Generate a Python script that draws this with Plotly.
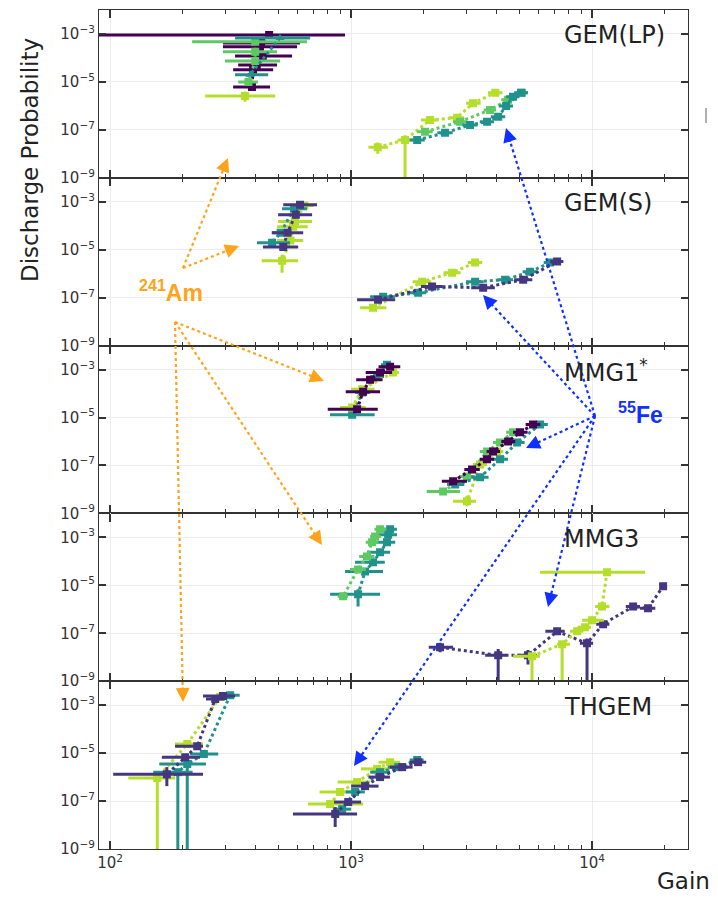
import plotly.graph_objects as go
from plotly.subplots import make_subplots

# ---------------- colours ----------------
DP = "#440154"   # dark purple
IN = "#45377f"   # indigo
TE = "#21918c"   # teal
GR = "#5ec962"   # green
YG = "#b5de2b"   # yellow-green

PANEL_LABELS = ["GEM(LP)", "GEM(S)", "MMG1<sup>*</sup>", "MMG3", "THGEM"]
X_MAJOR = [100, 1000, 10000]
X_MAJOR_TEXT = ["10<sup>2</sup>", "10<sup>3</sup>", "10<sup>4</sup>"]
X_MINOR = [200, 300, 400, 500, 600, 700, 800, 900,
           2000, 3000, 4000, 5000, 6000, 7000, 8000, 9000, 20000]
Y_TICKS = [1e-9, 1e-7, 1e-5, 1e-3]
Y_TICK_TEXT = ["10<sup>\u22129</sup>", "10<sup>\u22127</sup>", "10<sup>\u22125</sup>", "10<sup>\u22123</sup>"]

# ---------------- panel 1 : GEM(LP) ----------------
P1_AM_DP_X = [457, 423, 419, 430, 406, 392, 388]
P1_AM_DP_Y = [9.0e-4, 4.2e-4, 2.9e-4, 1.2e-4, 5.1e-5, 3.2e-5, 6.2e-6]
P1_AM_DP_XLO = [80, 294, 294, 330, 340, 324, 324]
P1_AM_DP_XHI = [944, 614, 597, 569, 493, 475, 461]

P1_AM_TE_X = [507, 381]
P1_AM_TE_Y = [6.8e-4, 2.0e-5]
P1_AM_TE_XLO = [330, 330]
P1_AM_TE_XHI = [676, 453]

P1_AM_GR_X = [400, 400, 400, 375]
P1_AM_GR_Y = [4.7e-4, 1.8e-4, 7.5e-5, 1.0e-5]
P1_AM_GR_XLO = [219, 294, 300, 340]
P1_AM_GR_XHI = [656, 493, 507, 411]

P1_AM_YG_X = [363]
P1_AM_YG_Y = [2.6e-6]
P1_AM_YG_XLO = [248]
P1_AM_YG_XHI = [484]
P1_AM_YG_YLO = [1.5e-6]
P1_AM_YG_YHI = [4.0e-6]

P1_FE_YG_X = [1290, 1675, 2127, 2754, 3206, 3965]
P1_FE_YG_Y = [1.9e-8, 3.8e-8, 2.6e-7, 3.2e-7, 1.3e-6, 3.5e-6]
P1_FE_YG_XLO = [1180, 1560, 1950, 2550, 3000, 3700]
P1_FE_YG_XHI = [1420, 1800, 2300, 2950, 3450, 4250]
P1_FE_YG_YLO = [1.0e-8, 8e-10, 2.0e-7, 2.6e-7, 1.1e-6, 3.0e-6]
P1_FE_YG_YHI = [3.0e-8, 6.0e-8, 3.2e-7, 3.9e-7, 1.6e-6, 4.2e-6]

P1_FE_GR_X = [2028, 2833, 3773, 4482, 5120]
P1_FE_GR_Y = [8.3e-8, 2.2e-7, 6.8e-7, 1.8e-6, 3.5e-6]
P1_FE_GR_XLO = [1880, 2650, 3550, 4200, 4850]
P1_FE_GR_XHI = [2180, 3030, 4000, 4750, 5400]

P1_FE_TE_X = [1880, 2455, 3117, 3666, 4077, 4400, 4700, 5073]
P1_FE_TE_Y = [3.8e-8, 7.5e-8, 1.6e-7, 2.2e-7, 3.5e-7, 1.0e-6, 2.4e-6, 3.5e-6]
P1_FE_TE_XLO = [1750, 2280, 2900, 3420, 3800, 4100, 4400, 4750]
P1_FE_TE_XHI = [2020, 2640, 3350, 3920, 4360, 4700, 5000, 5420]

# ---------------- panel 2 : GEM(S) ----------------
P2_AM_IN_X = [614, 590, 545, 523]
P2_AM_IN_Y = [7.5e-4, 2.9e-4, 5.1e-5, 1.3e-5]
P2_AM_IN_XLO = [523, 498, 469, 431]
P2_AM_IN_XHI = [722, 689, 633, 603]

P2_AM_TE_X = [580, 510, 470]
P2_AM_TE_Y = [5.1e-4, 5.1e-5, 1.95e-5]
P2_AM_TE_XLO = [517, 469, 407]
P2_AM_TE_XHI = [656, 558, 558]

P2_AM_YG_X = [640, 585, 575, 560, 517]
P2_AM_YG_Y = [7.0e-4, 1.5e-4, 9.1e-5, 2.4e-5, 3.5e-6]
P2_AM_YG_XLO = [600, 498, 493, 493, 426]
P2_AM_YG_XHI = [700, 689, 661, 633, 603]
P2_AM_YG_YLO = [6.5e-4, 1.4e-4, 8.5e-5, 2.2e-5, 1.1e-6]
P2_AM_YG_YHI = [7.5e-4, 1.6e-4, 9.7e-5, 2.6e-5, 6.2e-6]

P2_FE_IN_X = [1294, 2168, 3532, 5177, 7161]
P2_FE_IN_Y = [8.2e-8, 2.9e-7, 2.6e-7, 5.6e-7, 3.2e-6]
P2_FE_IN_XLO = [1059, 1950, 3150, 4750, 6700]
P2_FE_IN_XHI = [1524, 2400, 3950, 5650, 7600]

P2_FE_TE_X = [1358, 1897, 3270, 4357, 5529, 6693]
P2_FE_TE_Y = [1.1e-7, 1.6e-7, 4.6e-7, 5.6e-7, 1.2e-6, 2.9e-6]
P2_FE_TE_XLO = [1200, 1750, 3000, 4050, 5150, 6300]
P2_FE_TE_XHI = [1520, 2050, 3550, 4700, 5900, 7100]

P2_FE_YG_X = [1233, 1972, 2625, 3270]
P2_FE_YG_Y = [3.8e-8, 4.6e-7, 1.1e-6, 2.9e-6]
P2_FE_YG_XLO = [1090, 1800, 2420, 3050]
P2_FE_YG_XHI = [1400, 2150, 2850, 3500]

# ---------------- panel 3 : MMG1* ----------------
P3_AM_DP_X = [1452, 1319, 1199, 1122, 1059]
P3_AM_DP_Y = [1.3e-3, 7.5e-4, 3.8e-4, 1.2e-4, 2.2e-5]
P3_AM_DP_XLO = [1300, 1150, 1050, 950, 800]
P3_AM_DP_XHI = [1600, 1480, 1350, 1319, 1290]

P3_AM_TE_X = [1409, 1282, 1111, 1010]
P3_AM_TE_Y = [1.6e-3, 5.1e-4, 1.1e-4, 1.3e-5]
P3_AM_TE_XLO = [1330, 1200, 1040, 818]
P3_AM_TE_XHI = [1500, 1370, 1200, 1253]

P3_AM_YG_X = [1493, 1111, 1010]
P3_AM_YG_Y = [7.5e-4, 1.5e-4, 2.6e-5]
P3_AM_YG_XLO = [1420, 1000, 900]
P3_AM_YG_XHI = [1580, 1250, 1150]

P3_FE_DP_X = [5690, 5025, 4482, 3882, 3666, 3177, 2651]
P3_FE_DP_Y = [5.1e-6, 2.4e-6, 1.0e-6, 3.8e-7, 1.8e-7, 6.8e-8, 2.2e-8]
P3_FE_DP_XLO = [5300, 4700, 4200, 3650, 3420, 2950, 2380]
P3_FE_DP_XHI = [6100, 5400, 4800, 4150, 3920, 3420, 3027]

P3_FE_TE_X = [6083, 4887, 4151, 3429, 2703]
P3_FE_TE_Y = [5.1e-6, 9.1e-7, 1.8e-7, 3.2e-8, 1.6e-8]
P3_FE_TE_XLO = [5650, 4550, 3850, 3150, 2500]
P3_FE_TE_XHI = [6550, 5250, 4480, 3720, 2950]

P3_FE_GR_X = [4700, 4151, 3666, 3027, 2410]
P3_FE_GR_Y = [2.4e-6, 9.1e-7, 3.8e-7, 3.5e-8, 8.2e-9]
P3_FE_GR_XLO = [4400, 3880, 3420, 2800, 2060]
P3_FE_GR_XHI = [5000, 4430, 3920, 3260, 2833]

P3_FE_YG_X = [4037, 3429, 3027]
P3_FE_YG_Y = [3.8e-7, 1.1e-7, 3.2e-9]
P3_FE_YG_XLO = [3800, 3200, 2651]
P3_FE_YG_XHI = [4280, 3660, 3300]
P3_FE_YG_YLO = [3.4e-7, 1.0e-7, 2.0e-9]
P3_FE_YG_YHI = [4.2e-7, 1.2e-7, 5.5e-9]

# ---------------- panel 4 : MMG3 ----------------
P4_AM_TE_X = [1452, 1425, 1409, 1319, 1233, 1143, 1069]
P4_AM_TE_Y = [2.2e-3, 1.3e-3, 6.2e-4, 2.4e-4, 9.1e-5, 3.8e-5, 4.2e-6]
P4_AM_TE_XLO = [1296, 1250, 1199, 1164, 1039, 944, 818]
P4_AM_TE_XHI = [1549, 1550, 1524, 1452, 1380, 1357, 1319]
P4_AM_TE_YLO = [2.1e-3, 1.25e-3, 5.9e-4, 2.3e-4, 8.7e-5, 3.6e-5, 1.3e-6]
P4_AM_TE_YHI = [2.3e-3, 1.35e-3, 6.5e-4, 2.5e-4, 9.5e-5, 4.0e-5, 6.8e-6]

P4_AM_GR_X = [1319, 1259, 1222, 1164, 1069, 927]
P4_AM_GR_Y = [2.2e-3, 1.1e-3, 6.2e-4, 1.6e-4, 4.6e-5, 3.5e-6]
P4_AM_GR_XLO = [1250, 1200, 1150, 1080, 990, 880]
P4_AM_GR_XHI = [1400, 1330, 1300, 1250, 1150, 970]

P4_FE_IN_X = [2340, 4077, 5420, 7161, 9530, 11110, 14800, 17070, 19710]
P4_FE_IN_Y = [2.6e-8, 1.2e-8, 1.2e-8, 1.2e-7, 3.8e-8, 2.4e-7, 1.3e-6, 1.1e-6, 9.1e-6]
P4_FE_IN_XLO = [2100, 3600, 4900, 6400, 8900, 10400, 13800, 15800, 19200]
P4_FE_IN_XHI = [2650, 4400, 5900, 7700, 10100, 11800, 15800, 18300, 20200]
P4_FE_IN_YLO = [1.6e-8, 8e-10, 5e-9, 1.0e-7, 8e-10, 2.0e-7, 1.1e-6, 9.5e-7, 8.0e-6]
P4_FE_IN_YHI = [4.0e-8, 2.2e-8, 2.0e-8, 1.4e-7, 6.0e-8, 2.8e-7, 1.5e-6, 1.3e-6, 1.0e-5]

P4_FE_YG_X = [5632, 7510, 8672, 9355, 10000, 10990, 11530]
P4_FE_YG_Y = [1.1e-8, 3.5e-8, 1.2e-7, 1.8e-7, 3.5e-7, 1.3e-6, 3.5e-5]
P4_FE_YG_XLO = [4700, 7161, 8100, 8700, 9100, 10300, 6083]
P4_FE_YG_XHI = [6083, 8102, 9200, 9900, 11200, 11800, 16600]
P4_FE_YG_YLO = [8e-10, 8e-10, 1.0e-7, 1.5e-7, 3.0e-7, 1.1e-6, 3.2e-5]
P4_FE_YG_YHI = [1.3e-8, 4.0e-8, 1.4e-7, 2.1e-7, 4.0e-7, 1.5e-6, 3.8e-5]

# ---------------- panel 5 : THGEM ----------------
P5_AM_IN_X = [294, 273, 230, 205, 172]
P5_AM_IN_Y = [2.4e-3, 1.8e-3, 1.95e-5, 6.8e-6, 1.3e-6]
P5_AM_IN_XLO = [243, 250, 186, 164, 103]
P5_AM_IN_XHI = [330, 300, 243, 236, 243]
P5_AM_IN_YLO = [2.3e-3, 1.7e-3, 1.8e-5, 5.0e-6, 4.2e-7]
P5_AM_IN_YHI = [2.5e-3, 1.9e-3, 2.1e-5, 8.5e-6, 2.6e-6]

P5_AM_TE_X = [315, 245, 209, 191]
P5_AM_TE_Y = [2.6e-3, 9.1e-6, 3.5e-6, 1.6e-6]
P5_AM_TE_XLO = [290, 215, 160, 151]
P5_AM_TE_XHI = [345, 281, 250, 220]
P5_AM_TE_YLO = [2.4e-3, 8.0e-6, 8e-10, 8e-10]
P5_AM_TE_YHI = [2.8e-3, 1.0e-5, 4.0e-6, 2.0e-6]

P5_AM_YG_X = [286, 209, 157]
P5_AM_YG_Y = [2.2e-3, 2.4e-5, 9.1e-7]
P5_AM_YG_XLO = [270, 186, 119]
P5_AM_YG_XHI = [300, 243, 186]
P5_AM_YG_YLO = [2.1e-3, 2.2e-5, 8e-10]
P5_AM_YG_YHI = [2.3e-3, 2.6e-5, 1.1e-6]

P5_FE_IN_X = [1897, 1629, 1319, 1143, 973, 859]
P5_FE_IN_Y = [4.2e-6, 2.6e-6, 1.0e-6, 4.2e-7, 9.1e-8, 2.9e-8]
P5_FE_IN_XLO = [1750, 1450, 1180, 1000, 850, 574]
P5_FE_IN_XHI = [2050, 1800, 1450, 1300, 1100, 1059]
P5_FE_IN_YLO = [3.9e-6, 2.4e-6, 9.0e-7, 3.8e-7, 8.0e-8, 8.3e-9]
P5_FE_IN_YHI = [4.5e-6, 2.8e-6, 1.1e-6, 4.6e-7, 1.0e-7, 5.6e-8]

P5_FE_TE_X = [1880, 1568, 1319, 1039, 918]
P5_FE_TE_Y = [5.1e-6, 2.6e-6, 1.6e-6, 2.4e-7, 4.6e-8]
P5_FE_TE_XLO = [1750, 1420, 1200, 950, 840]
P5_FE_TE_XHI = [2000, 1720, 1450, 1140, 1000]

P5_FE_YG_X = [1452, 1282, 1059, 900, 818]
P5_FE_YG_Y = [4.2e-6, 2.2e-6, 6.2e-7, 2.4e-7, 7.5e-8]
P5_FE_YG_XLO = [1300, 1100, 880, 740, 663]
P5_FE_YG_XHI = [1600, 1450, 1200, 1050, 1122]

SERIES = [
    (1, DP, "square", P1_AM_DP_X, P1_AM_DP_Y, P1_AM_DP_XLO, P1_AM_DP_XHI, None, None),
    (1, GR, "square", P1_AM_GR_X, P1_AM_GR_Y, P1_AM_GR_XLO, P1_AM_GR_XHI, None, None),
    (1, TE, "triangle-up", P1_AM_TE_X, P1_AM_TE_Y, P1_AM_TE_XLO, P1_AM_TE_XHI, None, None),
    (1, YG, "square", P1_AM_YG_X, P1_AM_YG_Y, P1_AM_YG_XLO, P1_AM_YG_XHI, P1_AM_YG_YLO, P1_AM_YG_YHI),
    (1, YG, "square", P1_FE_YG_X, P1_FE_YG_Y, P1_FE_YG_XLO, P1_FE_YG_XHI, P1_FE_YG_YLO, P1_FE_YG_YHI),
    (1, GR, "square", P1_FE_GR_X, P1_FE_GR_Y, P1_FE_GR_XLO, P1_FE_GR_XHI, None, None),
    (1, TE, "square", P1_FE_TE_X, P1_FE_TE_Y, P1_FE_TE_XLO, P1_FE_TE_XHI, None, None),

    (2, YG, "square", P2_AM_YG_X, P2_AM_YG_Y, P2_AM_YG_XLO, P2_AM_YG_XHI, P2_AM_YG_YLO, P2_AM_YG_YHI),
    (2, TE, "square", P2_AM_TE_X, P2_AM_TE_Y, P2_AM_TE_XLO, P2_AM_TE_XHI, None, None),
    (2, IN, "square", P2_AM_IN_X, P2_AM_IN_Y, P2_AM_IN_XLO, P2_AM_IN_XHI, None, None),
    (2, YG, "square", P2_FE_YG_X, P2_FE_YG_Y, P2_FE_YG_XLO, P2_FE_YG_XHI, None, None),
    (2, TE, "square", P2_FE_TE_X, P2_FE_TE_Y, P2_FE_TE_XLO, P2_FE_TE_XHI, None, None),
    (2, IN, "square", P2_FE_IN_X, P2_FE_IN_Y, P2_FE_IN_XLO, P2_FE_IN_XHI, None, None),

    (3, TE, "square", P3_AM_TE_X, P3_AM_TE_Y, P3_AM_TE_XLO, P3_AM_TE_XHI, None, None),
    (3, YG, "square", P3_AM_YG_X, P3_AM_YG_Y, P3_AM_YG_XLO, P3_AM_YG_XHI, None, None),
    (3, DP, "square", P3_AM_DP_X, P3_AM_DP_Y, P3_AM_DP_XLO, P3_AM_DP_XHI, None, None),
    (3, YG, "square", P3_FE_YG_X, P3_FE_YG_Y, P3_FE_YG_XLO, P3_FE_YG_XHI, P3_FE_YG_YLO, P3_FE_YG_YHI),
    (3, GR, "square", P3_FE_GR_X, P3_FE_GR_Y, P3_FE_GR_XLO, P3_FE_GR_XHI, None, None),
    (3, TE, "square", P3_FE_TE_X, P3_FE_TE_Y, P3_FE_TE_XLO, P3_FE_TE_XHI, None, None),
    (3, DP, "square", P3_FE_DP_X, P3_FE_DP_Y, P3_FE_DP_XLO, P3_FE_DP_XHI, None, None),

    (4, TE, "square", P4_AM_TE_X, P4_AM_TE_Y, P4_AM_TE_XLO, P4_AM_TE_XHI, P4_AM_TE_YLO, P4_AM_TE_YHI),
    (4, GR, "square", P4_AM_GR_X, P4_AM_GR_Y, P4_AM_GR_XLO, P4_AM_GR_XHI, None, None),
    (4, IN, "square", P4_FE_IN_X, P4_FE_IN_Y, P4_FE_IN_XLO, P4_FE_IN_XHI, P4_FE_IN_YLO, P4_FE_IN_YHI),
    (4, YG, "square", P4_FE_YG_X, P4_FE_YG_Y, P4_FE_YG_XLO, P4_FE_YG_XHI, P4_FE_YG_YLO, P4_FE_YG_YHI),

    (5, YG, "square", P5_AM_YG_X, P5_AM_YG_Y, P5_AM_YG_XLO, P5_AM_YG_XHI, P5_AM_YG_YLO, P5_AM_YG_YHI),
    (5, TE, "square", P5_AM_TE_X, P5_AM_TE_Y, P5_AM_TE_XLO, P5_AM_TE_XHI, P5_AM_TE_YLO, P5_AM_TE_YHI),
    (5, IN, "square", P5_AM_IN_X, P5_AM_IN_Y, P5_AM_IN_XLO, P5_AM_IN_XHI, P5_AM_IN_YLO, P5_AM_IN_YHI),
    (5, YG, "square", P5_FE_YG_X, P5_FE_YG_Y, P5_FE_YG_XLO, P5_FE_YG_XHI, None, None),
    (5, TE, "square", P5_FE_TE_X, P5_FE_TE_Y, P5_FE_TE_XLO, P5_FE_TE_XHI, None, None),
    (5, IN, "square", P5_FE_IN_X, P5_FE_IN_Y, P5_FE_IN_XLO, P5_FE_IN_XHI, P5_FE_IN_YLO, P5_FE_IN_YHI),
]

# ---------------- figure ----------------
W, H = 718, 905
ML, MR, MT, MB = 99, 30, 10, 56

fig = make_subplots(rows=5, cols=1, shared_xaxes=True, vertical_spacing=0)

for row, col, sym, x, y, xlo, xhi, ylo, yhi in SERIES:
    ex = dict(type="data", symmetric=False,
              array=[h - v for h, v in zip(xhi, x)],
              arrayminus=[v - l for v, l in zip(x, xlo)],
              color=col, thickness=3, width=0)
    if ylo is None:
        ey = dict(visible=False)
    else:
        ey = dict(type="data", symmetric=False,
                  array=[h - v for h, v in zip(yhi, y)],
                  arrayminus=[v - l for v, l in zip(y, ylo)],
                  color=col, thickness=3, width=0)
    fig.add_trace(go.Scatter(
        x=x, y=y, mode="lines+markers",
        line=dict(color=col, width=3, dash="dot"),
        marker=dict(symbol=sym, size=8, color=col),
        error_x=ex, error_y=ey, showlegend=False, hoverinfo="skip"),
        row=row, col=1)

AXCOL = "#333333"
TICKFONT = dict(family="DejaVu Sans", size=15, color="#333333")
for r in range(1, 6):
    fig.update_yaxes(type="log", range=[-9, -2], tickmode="array", tickvals=Y_TICKS,
                     ticktext=Y_TICK_TEXT,
                     showgrid=True, gridcolor="#ececec", gridwidth=1,
                     ticks="inside", ticklen=7, tickwidth=1.5, tickcolor=AXCOL,
                     mirror="allticks", showline=True, linecolor=AXCOL, linewidth=1.2,
                     zeroline=False, tickfont=TICKFONT, row=r, col=1)
    fig.update_xaxes(type="log", range=[1.954, 4.398], tickmode="array", tickvals=X_MAJOR,
                     ticktext=X_MAJOR_TEXT,
                     showgrid=True, gridcolor="#ececec", gridwidth=1,
                     ticks="inside", ticklen=8, tickwidth=1.5, tickcolor=AXCOL,
                     minor=dict(tickmode="array", tickvals=X_MINOR, ticks="inside",
                                ticklen=4, tickwidth=1.2, tickcolor=AXCOL, showgrid=False),
                     mirror="allticks", showline=True, linecolor=AXCOL, linewidth=1.2,
                     zeroline=False, showticklabels=(r == 5), tickfont=TICKFONT,
                     row=r, col=1)


def px(x):
    return (x - ML) / (W - ML - MR)


def py(y):
    return 1 - (y - MT) / (H - MT - MB)


annotations = []
shapes = []

# panel labels
PANEL_TOPS = [10, 178, 346, 514, 682]
for lab, top in zip(PANEL_LABELS, PANEL_TOPS):
    annotations.append(dict(x=px(562), y=py(top + 25), xref="paper", yref="paper",
                            text=lab, showarrow=False, xanchor="left", yanchor="middle",
                            font=dict(family="DejaVu Sans", size=24, color="#222222")))

# axis titles
annotations.append(dict(x=px(30), y=py(160), xref="paper", yref="paper",
                        text="Discharge Probability", textangle=-90, showarrow=False,
                        xanchor="center", yanchor="middle",
                        font=dict(family="DejaVu Sans", size=23, color="#222222")))
annotations.append(dict(x=px(683), y=py(881), xref="paper", yref="paper",
                        text="Gain", showarrow=False, xanchor="center", yanchor="middle",
                        font=dict(family="DejaVu Sans", size=23, color="#222222")))

ORANGE = "#ffa31a"
BLUE = "#1030ff"
annotations.append(dict(x=px(171), y=py(291), xref="paper", yref="paper",
                        text="<sup>241</sup>Am", showarrow=False, xanchor="center", yanchor="middle",
                        font=dict(family="Liberation Sans", size=23, color=ORANGE, weight="bold")))
annotations.append(dict(x=px(640), y=py(413), xref="paper", yref="paper",
                        text="<sup>55</sup>Fe", showarrow=False, xanchor="center", yanchor="middle",
                        font=dict(family="Liberation Sans", size=23, color=BLUE, weight="bold")))

ARROWS = [
    ((183, 268), (228, 158), ORANGE),
    ((183, 268), (239, 246), ORANGE),
    ((175, 322), (324, 381), ORANGE),
    ((175, 322), (322, 545), ORANGE),
    ((175, 322), (183, 702), ORANGE),
    ((595, 416), (506, 128), BLUE),
    ((595, 416), (483, 295), BLUE),
    ((595, 416), (526, 448), BLUE),
    ((595, 416), (548, 607), BLUE),
    ((595, 416), (354, 766), BLUE),
]
for (tx, ty), (hx, hy), c in ARROWS:
    dx, dy = tx - hx, ty - hy
    n = (dx * dx + dy * dy) ** 0.5
    ux, uy = dx / n, dy / n
    L = 16
    shapes.append(dict(type="line", xref="paper", yref="paper",
                       x0=px(tx), y0=py(ty), x1=px(hx + ux * 6), y1=py(hy + uy * 6),
                       line=dict(color=c, width=2.2, dash="dot")))
    annotations.append(dict(x=px(hx), y=py(hy), xref="paper", yref="paper",
                            ax=ux * L, ay=uy * L, axref="pixel", ayref="pixel",
                            text="", showarrow=True, arrowhead=2, arrowsize=1.4,
                            arrowwidth=2, arrowcolor=c, standoff=0))

# small grey mark at right edge
shapes.append(dict(type="line", xref="paper", yref="paper",
                   x0=px(706), y0=py(108), x1=px(706), y1=py(123),
                   line=dict(color="#b0b0b0", width=2)))

fig.update_layout(width=W, height=H, margin=dict(l=ML, r=MR, t=MT, b=MB),
                  plot_bgcolor="white", paper_bgcolor="white",
                  annotations=annotations, shapes=shapes, showlegend=False)

fig.write_html("out.html")
